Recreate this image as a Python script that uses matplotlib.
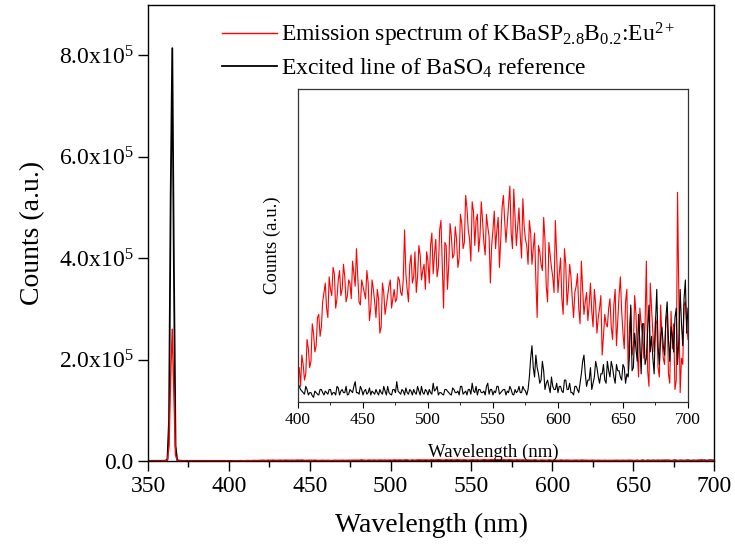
import numpy as np
import matplotlib
matplotlib.use("Agg")
import matplotlib.pyplot as plt
from matplotlib.ticker import MultipleLocator, FuncFormatter

plt.rcParams['font.family'] = ['Liberation Serif', 'DejaVu Serif']
plt.rcParams['mathtext.fontset'] = 'custom'
plt.rcParams['mathtext.rm'] = 'Liberation Serif'
plt.rcParams['mathtext.it'] = 'Liberation Serif:italic'

# --- Data ---------------------------------------------------------------
# excitation region, 1 nm steps (350-398 nm)
wl_exc = list(range(350, 399))
red_exc = [300, 280, 320, 300, 310, 290, 300, 320, 310, 330, 350, 500,
           1500, 30000, 170000, 260000, 130000, 12000, 1500, 600, 400, 350,
           330, 320, 340, 300, 320, 330, 310, 340, 320, 330, 300, 320, 340,
           310, 330, 300, 320, 350, 330, 320, 340, 310, 330, 320, 300, 330, 320]
black_exc = [300, 290, 310, 300, 320, 300, 310, 300, 320, 330, 400, 800,
             3000, 80000, 520000, 814000, 380000, 30000, 2000, 700, 400, 320,
             300, 310, 290, 300, 310, 280, 300, 290, 310, 300, 280, 300, 290,
             300, 310, 280, 300, 290, 300, 280, 290, 300, 280, 290, 300, 280, 290]

# emission region (counts), even wavelengths 400-700 nm
wl_even = list(range(400, 701, 2))
red_even = [320, 200, 480, 360, 680, 520, 880, 720, 1120, 960,
            1400, 1200, 1600, 1360, 1640, 1320, 1680, 1440, 1600, 1360,
            1520, 1800, 1480, 1600, 1240, 1480, 1320, 1520, 1200, 1440,
            1080, 1320, 960, 1400, 1240, 1480, 1200, 1440, 1320, 1560,
            1360, 2200, 1440, 1760, 1520, 1920, 1600, 1880, 1680, 1440,
            1800, 2000, 1640, 2080, 1720, 2320, 1200, 2000, 1760, 2120,
            1880, 2080, 1840, 2280, 2040, 2480, 2080, 2560, 2000, 2400,
            2120, 2320, 1880, 2240, 1520, 2200, 1960, 2360, 2080, 2640,
            2040, 2520, 2160, 2720, 2000, 2480, 1840, 2240, 2000, 2320,
            1760, 2160, 1080, 1920, 1680, 2080, 1280, 1880, 1600, 2320,
            1400, 1840, 1120, 1760, 1440, 1600, 1080, 1480, 1200, 1800,
            1120, 1400, 1240, 1160, 1440, 880, 1200, 600, 1120, 960,
            1320, 800, 1440, 1040, 1600, 880, 1280, 400, 1200, 720,
            1120, 320, 1000, 560, 1800, 200, 1200, 640, 1000, 320,
            800, 480, 1120, 240, 680, 160, 2680, 120, 480, 1280,
            800]
black_even = [240, 160, 120, 200, 90, 120, 60, 120, 90, 160,
              90, 120, 160, 90, 120, 200, 90, 160, 120, 90,
              160, 120, 260, 120, 200, 90, 160, 120, 90, 120,
              160, 90, 120, 200, 90, 120, 90, 160, 260, 120,
              160, 90, 120, 160, 90, 120, 200, 90, 120, 160,
              90, 120, 240, 160, 90, 120, 90, 160, 120, 90,
              160, 120, 90, 200, 120, 90, 160, 240, 120, 90,
              160, 120, 90, 240, 160, 90, 120, 200, 120, 160,
              90, 120, 160, 90, 120, 200, 120, 160, 90, 320,
              720, 320, 440, 240, 520, 160, 280, 120, 200, 160,
              120, 200, 120, 280, 160, 120, 90, 200, 120, 360,
              600, 200, 280, 160, 320, 440, 240, 360, 280, 520,
              320, 440, 240, 400, 320, 480, 240, 320, 1240, 440,
              680, 1120, 360, 1000, 560, 1240, 840, 360, 1440, 480,
              960, 600, 1280, 520, 840, 1080, 480, 1440, 720, 1560,
              1200]

# emission region (counts), odd wavelengths 401-699 nm
wl_odd = list(range(401, 700, 2))
red_odd = [440, 600, 280, 800, 440, 1000, 640, 1080, 840, 1280,
           1520, 1080, 1440, 1720, 1200, 1560, 1360, 1760, 1280, 1560,
           1320, 1640, 1960, 1280, 1560, 1400, 1680, 1040, 1560, 1280,
           1440, 880, 1520, 1120, 1360, 1560, 1320, 1280, 1600, 1400,
           1560, 1640, 1280, 1880, 1600, 1400, 2000, 1560, 1760, 1920,
           1520, 2160, 1880, 1600, 2200, 1760, 2040, 1440, 2280, 1840,
           2240, 1720, 2400, 1960, 2640, 2200, 1800, 2440, 2320, 1920,
           2560, 2040, 2400, 2120, 2000, 2440, 2200, 1720, 2480, 2320,
           2280, 2760, 1960, 2360, 2240, 2120, 2600, 2080, 1760, 2160,
           1960, 1560, 2000, 1760, 2360, 1480, 2040, 1720, 1400, 1880,
           1640, 1320, 1960, 1240, 1760, 1320, 1400, 1640, 1000, 1440,
           1280, 1040, 1520, 960, 1240, 1080, 1360, 840, 1000, 1200,
           960, 1240, 720, 1360, 1160, 680, 1440, 960, 600, 1360,
           640, 1200, 880, 1000, 400, 1520, 880, 1080, 440, 1240,
           560, 1040, 360, 1160, 1000, 280, 1320, 560, 1240, 1000]
black_odd = [200, 140, 100, 160, 120, 80, 140, 100, 160, 120,
             140, 100, 160, 120, 90, 180, 140, 120, 200, 100,
             140, 200, 120, 100, 160, 140, 100, 180, 140, 100,
             120, 160, 100, 140, 200, 100, 160, 120, 140, 100,
             140, 180, 100, 140, 160, 100, 140, 200, 100, 140,
             160, 100, 140, 200, 120, 100, 160, 140, 100, 180,
             120, 140, 200, 100, 140, 160, 100, 140, 200, 160,
             120, 140, 200, 100, 160, 140, 200, 100, 140, 160,
             140, 200, 100, 160, 140, 120, 200, 140, 160, 560,
             440, 600, 360, 280, 400, 240, 200, 320, 160, 240,
             200, 140, 280, 160, 240, 120, 200, 160, 240, 520,
             360, 280, 440, 240, 520, 320, 360, 480, 240, 400,
             520, 320, 480, 400, 280, 440, 360, 600, 400, 880,
             520, 760, 1000, 480, 920, 640, 560, 1000, 720, 840,
             720, 1080, 800, 960, 640, 1200, 800, 1000, 1320, 880]

# merge even/odd samples into one 1 nm series
wl_em = np.array(wl_even + wl_odd)
order = np.argsort(wl_em)
wl_em = wl_em[order]
red_em = np.array(red_even + red_odd)[order]
black_em = np.array(black_even + black_odd)[order]

wl_all = np.concatenate([wl_exc, wl_em])
red_all = np.concatenate([red_exc, red_em])
black_all = np.concatenate([black_exc, black_em])

# --- Figure -------------------------------------------------------------
fig = plt.figure(figsize=(7.35, 5.52), dpi=100)
ax = fig.add_axes([0.2014, 0.1649, 0.770, 0.8269])

ax.plot(wl_all, black_all, color='black', lw=1.3,
        label='Excited line of BaSO$_4$ reference')
ax.plot(wl_all, red_all, color='red', lw=1.0,
        label='Emission spectrum of KBaSP$_{2.8}$B$_{0.2}$:Eu$^{2+}$')

ax.set_xlim(350, 700)
ax.set_ylim(0, 9e5)
ax.xaxis.set_major_locator(MultipleLocator(50))
ax.xaxis.set_minor_locator(MultipleLocator(25))
ax.set_yticks([0, 2e5, 4e5, 6e5, 8e5])
ax.yaxis.set_major_formatter(FuncFormatter(
    lambda v, p: '0.0' if v == 0 else f'{v / 1e5:.1f}x10$^5$'))
ax.tick_params(axis='both', which='major', direction='out', length=7,
               width=1.0, labelsize=17)
ax.tick_params(axis='x', which='minor', direction='out', length=4, width=1.0)
ax.set_xlabel('Wavelength (nm)', fontsize=20, labelpad=12)
ax.set_ylabel('Counts (a.u.)', fontsize=20, labelpad=10)
for s in ax.spines.values():
    s.set_linewidth(1.0)

h, l = ax.get_legend_handles_labels()
ax.legend(h[::-1], l[::-1], loc='upper left', bbox_to_anchor=(0.101, 1.0),
          frameon=False, fontsize=17, handlelength=2.33, handletextpad=0.2,
          borderpad=0.2, labelspacing=0.3)

# inset
axi = fig.add_axes([0.4054, 0.2717, 0.5306, 0.567])
axi.plot(wl_em, red_em, color='red', lw=0.8)
axi.plot(wl_em, black_em, color='black', lw=0.8)
axi.set_xlim(400, 700)
axi.set_ylim(0, 4000)
axi.set_yticks([])
axi.xaxis.set_major_locator(MultipleLocator(50))
axi.xaxis.set_minor_locator(MultipleLocator(25))
axi.tick_params(axis='x', which='major', direction='out', length=4,
                labelsize=12.5)
axi.tick_params(axis='x', which='minor', direction='out', length=2.5)
axi.set_xlabel('Wavelength (nm)', fontsize=13.5, labelpad=11)
axi.set_ylabel('Counts (a.u.)', fontsize=13.5, labelpad=12)
for s in axi.spines.values():
    s.set_linewidth(0.9)
    s.set_color('#333333')

fig.savefig('out.png', dpi=100)
